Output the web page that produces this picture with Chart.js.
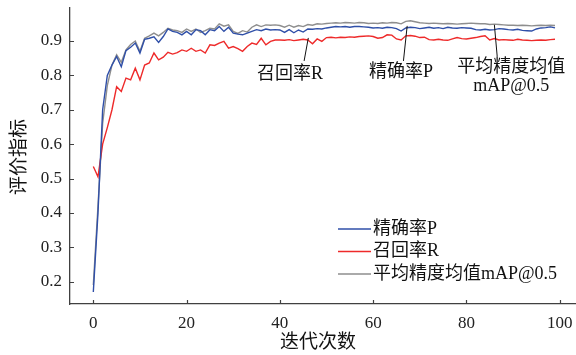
<!DOCTYPE html>
<html>
<head>
<meta charset="utf-8">
<script src="https://cdn.jsdelivr.net/npm/chart.js@4.4.1/dist/chart.umd.min.js"></script>
<style>
  html, body { margin: 0; padding: 0; background: #fff; }
  canvas { display: block; }
</style>
</head>
<body>
<canvas id="chart" width="576" height="355"></canvas>
<script>
// values (iterations 0..99)
const precision = [
  0.17, 0.40, 0.70, 0.80, 0.83, 0.855, 0.825, 0.872, 0.882, 0.894,
  0.865, 0.905, 0.908, 0.912, 0.896, 0.913, 0.935, 0.928, 0.925, 0.918,
  0.928, 0.918, 0.933, 0.930, 0.918, 0.933, 0.930, 0.942, 0.928, 0.940,
  0.923, 0.920, 0.918, 0.923, 0.928, 0.933, 0.930, 0.935, 0.932, 0.933,
  0.932, 0.925, 0.933, 0.924, 0.932, 0.926, 0.935, 0.934, 0.936, 0.935,
  0.938, 0.940, 0.942, 0.941, 0.942, 0.940, 0.942, 0.942, 0.941, 0.940,
  0.938, 0.939, 0.937, 0.940, 0.939, 0.936, 0.929, 0.938, 0.940, 0.939,
  0.936, 0.938, 0.940, 0.937, 0.939, 0.936, 0.940, 0.938, 0.937, 0.939,
  0.938, 0.937, 0.933, 0.932, 0.934, 0.932, 0.933, 0.936, 0.935, 0.933,
  0.932, 0.934, 0.931, 0.930, 0.929, 0.935, 0.938, 0.939, 0.941, 0.938
];
const recall = [
  0.535, 0.505, 0.60, 0.648, 0.70, 0.767, 0.753, 0.792, 0.787, 0.821,
  0.787, 0.83, 0.836, 0.865, 0.845, 0.853, 0.867, 0.862, 0.866, 0.874,
  0.870, 0.879, 0.870, 0.874, 0.865, 0.889, 0.887, 0.894, 0.899, 0.879,
  0.884, 0.878, 0.870, 0.884, 0.894, 0.890, 0.908, 0.889, 0.899, 0.903,
  0.903, 0.902, 0.904, 0.901, 0.903, 0.905, 0.903, 0.892, 0.906, 0.899,
  0.910, 0.911, 0.909, 0.911, 0.910, 0.912, 0.911, 0.913, 0.914, 0.915,
  0.913, 0.908, 0.910, 0.918, 0.917, 0.906, 0.903, 0.915, 0.916, 0.914,
  0.910, 0.911, 0.904, 0.903, 0.905, 0.903, 0.902, 0.906, 0.910, 0.907,
  0.906, 0.908, 0.910, 0.913, 0.915, 0.903, 0.907, 0.903, 0.904, 0.903,
  0.902, 0.905, 0.903, 0.902, 0.901, 0.902, 0.903, 0.902, 0.904, 0.905
];
const mapScore = [
  0.19, 0.42, 0.66, 0.77, 0.83, 0.86, 0.838, 0.874, 0.89, 0.90,
  0.87, 0.908, 0.915, 0.923, 0.915, 0.925, 0.937, 0.932, 0.930, 0.925,
  0.935, 0.928, 0.935, 0.925, 0.930, 0.937, 0.935, 0.950, 0.943, 0.947,
  0.928, 0.922, 0.930, 0.926, 0.940, 0.947, 0.942, 0.947, 0.946, 0.947,
  0.945, 0.940, 0.946, 0.940, 0.945, 0.942, 0.948, 0.946, 0.950, 0.949,
  0.951, 0.952, 0.953, 0.952, 0.954, 0.953, 0.952, 0.954, 0.953, 0.951,
  0.952, 0.951, 0.953, 0.952, 0.954, 0.953, 0.950, 0.957, 0.959, 0.956,
  0.953, 0.952, 0.951, 0.952, 0.951, 0.950, 0.951, 0.950, 0.949, 0.950,
  0.951, 0.952, 0.951, 0.950, 0.950, 0.948, 0.949, 0.948, 0.947, 0.946,
  0.946, 0.945, 0.946, 0.945, 0.944, 0.945, 0.946, 0.945, 0.946, 0.945
];
const xTicks = [0, 20, 40, 60, 80, 100];
const yTicks = [0.2, 0.3, 0.4, 0.5, 0.6, 0.7, 0.8, 0.9];
const seriesNames = ['精确率P', '召回率R', '平均精度均值mAP@0.5'];

const FONT = '"Liberation Serif", "Noto Sans CJK SC", serif';
const colors = ['#2f4fa8', '#ee2a2a', '#8e8e8e'];

// callouts on the plot, in data units
const callouts = [
  { text: ['召回率R'], at: [42.2, 0.802], from: [46.1, 0.909], to: [45.2, 0.842] },
  { text: ['精确率P'], at: [66.0, 0.808], from: [67.3, 0.944], to: [66.5, 0.842] },
  { text: ['平均精度均值', 'mAP@0.5'], at: [89.6, 0.825], from: [86.0, 0.947], to: [86.6, 0.856] }
];

const toPoints = arr => arr.map((v, i) => ({ x: i, y: v }));

const extras = {
  id: 'extras',
  afterDraw(chart) {
    const { ctx, chartArea, scales: { x, y } } = chart;
    ctx.save();
    // inward tick marks
    ctx.strokeStyle = '#404040';
    ctx.lineWidth = 1.2;
    ctx.beginPath();
    xTicks.forEach(v => {
      const px = Math.round(x.getPixelForValue(v)) + 0.5;
      ctx.moveTo(px, chartArea.bottom);
      ctx.lineTo(px, chartArea.bottom - 4);
    });
    yTicks.forEach(v => {
      const py = Math.round(y.getPixelForValue(v)) + 0.5;
      ctx.moveTo(chartArea.left, py);
      ctx.lineTo(chartArea.left + 4, py);
    });
    ctx.stroke();

    // callout texts and leader lines
    ctx.fillStyle = '#111';
    ctx.font = '18px ' + FONT;
    ctx.textAlign = 'center';
    ctx.textBaseline = 'middle';
    callouts.forEach(c => {
      ctx.strokeStyle = '#111';
      ctx.lineWidth = 1;
      ctx.beginPath();
      ctx.moveTo(x.getPixelForValue(c.from[0]), y.getPixelForValue(c.from[1]));
      ctx.lineTo(x.getPixelForValue(c.to[0]), y.getPixelForValue(c.to[1]));
      ctx.stroke();
      const cx = x.getPixelForValue(c.at[0]);
      const cy = y.getPixelForValue(c.at[1]);
      c.text.forEach((t, k) => ctx.fillText(t, cx, cy + k * 19));
    });

    // legend
    ctx.textAlign = 'left';
    chart.data.datasets.forEach((ds, k) => {
      const ry = 229 + k * 22.5;
      ctx.strokeStyle = ds.borderColor;
      ctx.lineWidth = 1.4;
      ctx.beginPath();
      ctx.moveTo(338, ry);
      ctx.lineTo(371, ry);
      ctx.stroke();
      ctx.fillStyle = '#111';
      ctx.fillText(ds.label, 373, ry);
    });

    // axis titles
    ctx.font = '19px ' + FONT;
    ctx.textAlign = 'center';
    ctx.fillText('迭代次数', 318, 343);
    ctx.translate(20, 157);
    ctx.rotate(-Math.PI / 2);
    ctx.fillText('评价指标', 0, 0);
    ctx.restore();
  }
};

new Chart(document.getElementById('chart'), {
  type: 'line',
  data: {
    datasets: [
      { label: seriesNames[0], data: toPoints(precision), borderColor: colors[0] },
      { label: seriesNames[1], data: toPoints(recall), borderColor: colors[1] },
      { label: seriesNames[2], data: toPoints(mapScore), borderColor: colors[2] }
    ].map(d => Object.assign(d, { borderWidth: 1.4, pointRadius: 0, tension: 0, fill: false }))
  },
  options: {
    responsive: false,
    animation: false,
    layout: { padding: { top: 8, right: 0, left: 0, bottom: 0 } },
    plugins: { legend: { display: false }, tooltip: { enabled: false } },
    scales: {
      x: {
        type: 'linear',
        min: -5,
        max: 103.5,
        grid: { display: false, drawTicks: false },
        border: { display: true, color: '#404040', width: 1.3 },
        ticks: { font: { family: FONT, size: 17 }, color: '#222', padding: 9, maxRotation: 0 },
        afterBuildTicks: s => { s.ticks = xTicks.map(v => ({ value: v })); },
        afterFit: s => { s.height = 51; s.paddingLeft = 0; s.paddingRight = 0; }
      },
      y: {
        min: 0.135,
        max: 0.996,
        grid: { display: false, drawTicks: false },
        border: { display: true, color: '#404040', width: 1.3 },
        ticks: {
          font: { family: FONT, size: 17 }, color: '#222', padding: 8,
          callback: v => v.toFixed(1)
        },
        afterBuildTicks: s => { s.ticks = yTicks.map(v => ({ value: v })); },
        afterFit: s => { s.width = 70; s.paddingTop = 0; s.paddingBottom = 0; }
      }
    }
  },
  plugins: [extras]
});
</script>
</body>
</html>
